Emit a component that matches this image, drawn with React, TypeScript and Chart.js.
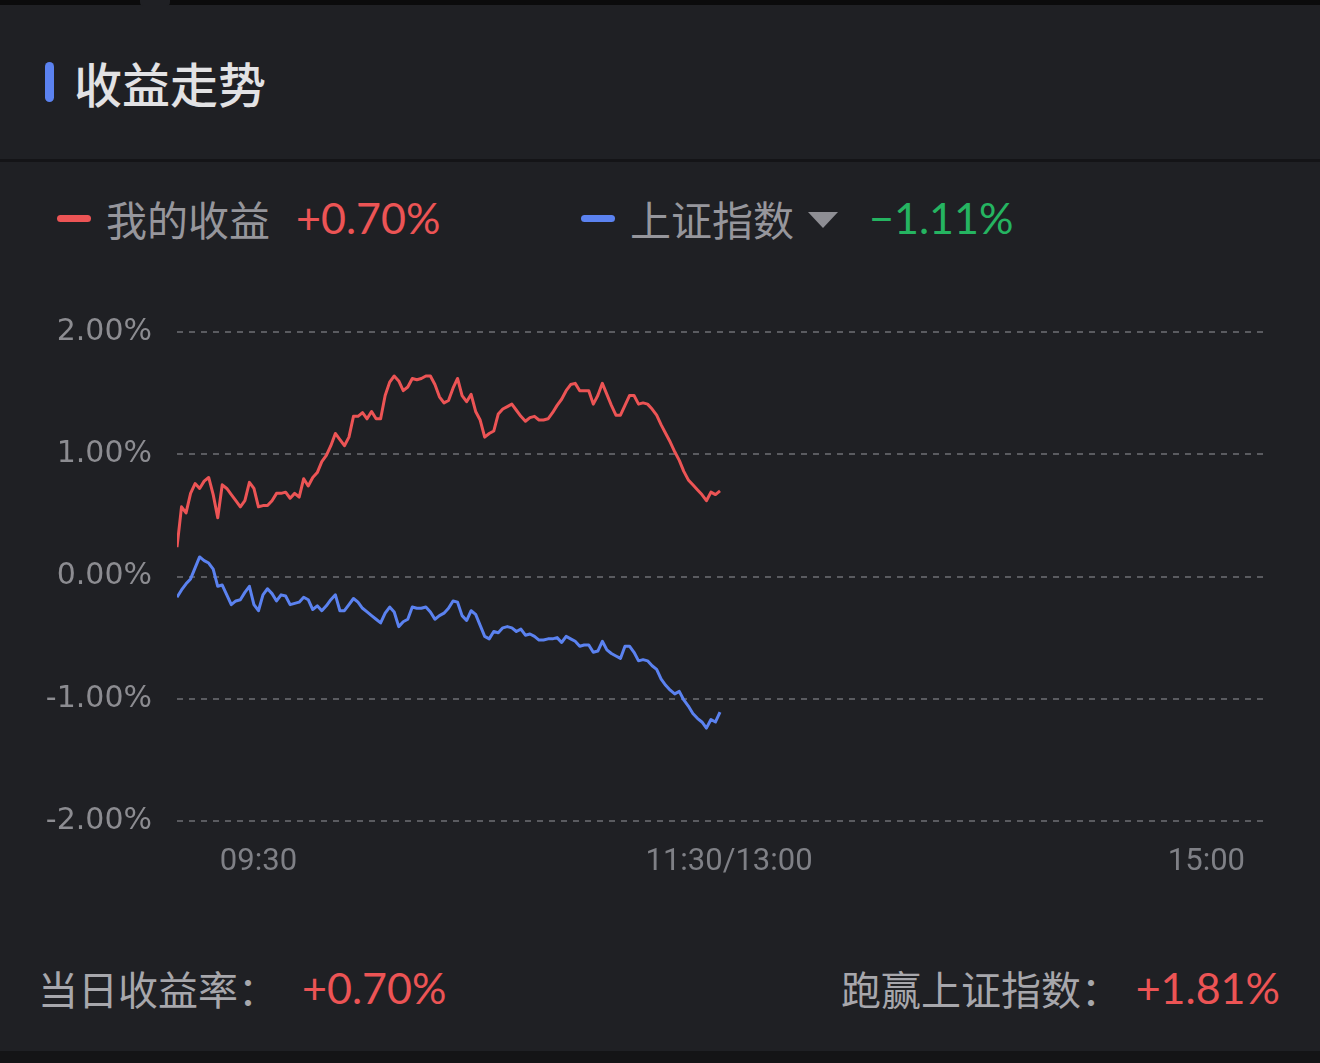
import React, { useEffect, useRef } from "react";
import { Chart, registerables } from "chart.js";

Chart.register(...registerables);

// ---- data (percent return per minute, 09:30 → 11:30) ----
const myReturn: number[] = [
  0.24, 0.57, 0.52, 0.68, 0.76, 0.72, 0.78, 0.81, 0.67, 0.48,
  0.75, 0.72, 0.67, 0.62, 0.57, 0.62, 0.77, 0.72, 0.57, 0.58,
  0.58, 0.62, 0.68, 0.68, 0.69, 0.64, 0.68, 0.65, 0.80, 0.74,
  0.81, 0.85, 0.94, 0.99, 1.07, 1.17, 1.12, 1.07, 1.14, 1.31,
  1.31, 1.34, 1.29, 1.35, 1.29, 1.29, 1.48, 1.59, 1.64, 1.60,
  1.52, 1.55, 1.62, 1.61, 1.62, 1.64, 1.64, 1.57, 1.47, 1.42,
  1.44, 1.54, 1.62, 1.48, 1.43, 1.49, 1.35, 1.28, 1.14, 1.17,
  1.19, 1.33, 1.37, 1.39, 1.41, 1.36, 1.31, 1.27, 1.30, 1.31,
  1.28, 1.28, 1.29, 1.34, 1.40, 1.45, 1.52, 1.57, 1.58, 1.52,
  1.52, 1.52, 1.41, 1.48, 1.58, 1.49, 1.40, 1.32, 1.32, 1.40,
  1.48, 1.48, 1.41, 1.42, 1.41, 1.37, 1.32, 1.24, 1.17, 1.10,
  1.02, 0.95, 0.86, 0.79, 0.75, 0.71, 0.67, 0.62, 0.69, 0.67,
  0.70,
];

const shIndex: number[] = [
  -0.17, -0.11, -0.06, -0.02, 0.07, 0.16, 0.13, 0.11, 0.06, -0.08,
  -0.07, -0.15, -0.23, -0.20, -0.19, -0.13, -0.08, -0.23, -0.28, -0.15,
  -0.10, -0.14, -0.20, -0.15, -0.16, -0.23, -0.22, -0.21, -0.17, -0.19,
  -0.27, -0.24, -0.28, -0.24, -0.19, -0.15, -0.28, -0.28, -0.23, -0.18,
  -0.21, -0.26, -0.29, -0.32, -0.35, -0.38, -0.30, -0.25, -0.29, -0.41,
  -0.37, -0.35, -0.25, -0.26, -0.26, -0.25, -0.29, -0.35, -0.32, -0.30,
  -0.26, -0.20, -0.21, -0.32, -0.36, -0.28, -0.31, -0.40, -0.49, -0.51,
  -0.45, -0.46, -0.42, -0.41, -0.42, -0.45, -0.43, -0.48, -0.47, -0.49,
  -0.52, -0.52, -0.51, -0.51, -0.50, -0.54, -0.49, -0.51, -0.53, -0.57,
  -0.56, -0.56, -0.62, -0.61, -0.53, -0.60, -0.63, -0.65, -0.67, -0.57,
  -0.57, -0.62, -0.69, -0.68, -0.69, -0.73, -0.76, -0.84, -0.89, -0.93,
  -0.96, -0.94, -1.01, -1.06, -1.12, -1.16, -1.19, -1.24, -1.17, -1.19,
  -1.11,
];

const sessionMinutes = 240;
const xTickAt: number[] = [18, 122, 227.5];
const xTickLabels: string[] = ["09:30", "11:30/13:00", "15:00"];
const yTicks: number[] = [-2, -1, 0, 1, 2];

const RED = "#ec5455";
const BLUE = "#5b82f0";
const GREEN = "#25b461";
const BG = "#1f2024";

const CJK = '"Noto Sans CJK SC", "Noto Sans", sans-serif';
const NUM: React.CSSProperties = { fontFamily: 'Lato, "Noto Sans CJK SC", sans-serif' };

function ReturnChart() {
  const ref = useRef<HTMLCanvasElement | null>(null);
  useEffect(() => {
    if (!ref.current) return;
    const chart = new Chart(ref.current, {
      type: "line",
      data: {
        datasets: [
          {
            label: "我的收益",
            data: myReturn.map((v, i) => ({ x: i, y: v })),
            borderColor: RED,
            borderWidth: 3,
            pointRadius: 0,
            tension: 0,
            borderJoinStyle: "round",
          },
          {
            label: "上证指数",
            data: shIndex.map((v, i) => ({ x: i, y: v })),
            borderColor: BLUE,
            borderWidth: 3,
            pointRadius: 0,
            tension: 0,
            borderJoinStyle: "round",
          },
        ],
      },
      options: {
        animation: false,
        responsive: false,
        devicePixelRatio: 1,
        layout: { padding: { top: 39, right: 57, bottom: 0, left: 0 } },
        plugins: { legend: { display: false }, tooltip: { enabled: false } },
        scales: {
          x: {
            type: "linear",
            min: 0,
            max: sessionMinutes,
            afterBuildTicks: (s: any) => {
              s.ticks = xTickAt.map((v) => ({ value: v }));
            },
            afterFit: (s: any) => {
              s.height = 88;
            },
            grid: { display: false, drawTicks: false },
            border: { display: false },
            ticks: {
              autoSkip: false,
              maxRotation: 0,
              padding: 23,
              color: "#7f8086",
              font: { family: "Roboto", size: 31 },
              callback: (_v: any, i: number) => xTickLabels[i],
            },
          },
          y: {
            min: -2,
            max: 2,
            afterBuildTicks: (s: any) => {
              s.ticks = yTicks.map((v) => ({ value: v }));
            },
            afterFit: (s: any) => {
              s.width = 177;
            },
            grid: { color: "#5a5b60", lineWidth: 2, drawTicks: false },
            border: { display: false, dash: [6, 6] },
            ticks: {
              padding: 25,
              color: "#8c8c91",
              font: { family: '"DejaVu Sans"', size: 30 },
              callback: (v: any) => Number(v).toFixed(2) + "%",
            },
          },
        },
      },
    });
    return () => chart.destroy();
  }, []);
  return (
    <canvas
      ref={ref}
      width={1320}
      height={620}
      style={{ position: "absolute", left: 0, top: 289, width: 1320, height: 620 }}
    />
  );
}

export default function App() {
  useEffect(() => {
    document.body.style.margin = "0";
    document.body.style.background = BG;
  }, []);
  const abs = (s: React.CSSProperties): React.CSSProperties => ({ position: "absolute", ...s });
  return (
    <div style={{ position: "relative", width: 1320, height: 1063, background: BG, overflow: "hidden", fontFamily: CJK }}>
      {/* top strip */}
      <div style={abs({ left: 0, top: 0, width: 1320, height: 5, background: "#0b0b0c" })} />
      <div style={abs({ left: 140, top: 0, width: 30, height: 6, background: BG, borderRadius: "0 0 4px 4px" })} />

      {/* title */}
      <div style={abs({ left: 45, top: 62, width: 9, height: 40, borderRadius: 5, background: BLUE })} />
      <div style={abs({ left: 74, top: 50, fontSize: 48, fontWeight: 500, color: "#e2e2e4", lineHeight: "64px" })}>
        收益走势
      </div>
      <div style={abs({ left: 0, top: 159, width: 1320, height: 3, background: "#141417" })} />

      {/* legend */}
      <div style={abs({ left: 57, top: 215, width: 34, height: 7, borderRadius: 4, background: RED })} />
      <div style={abs({ left: 106, top: 192, fontSize: 41, color: "#96969c", lineHeight: "52px" })}>我的收益</div>
      <div style={abs({ left: 296, top: 192, fontSize: 43, color: RED, lineHeight: "52px", ...NUM })}>+0.70%</div>

      <div style={abs({ left: 581, top: 215, width: 34, height: 7, borderRadius: 4, background: BLUE })} />
      <div style={abs({ left: 630, top: 192, fontSize: 41, color: "#96969c", lineHeight: "52px" })}>上证指数</div>
      <div
        style={abs({
          left: 808,
          top: 212,
          width: 0,
          height: 0,
          borderLeft: "15px solid transparent",
          borderRight: "15px solid transparent",
          borderTop: "16px solid #8e8e94",
        })}
      />
      <div style={abs({ left: 869, top: 192, fontSize: 43, color: GREEN, lineHeight: "52px", ...NUM })}>−1.11%</div>

      <ReturnChart />

      {/* footer */}
      <div style={abs({ left: 38, top: 962, fontSize: 40, color: "#a7a7ac", lineHeight: "52px" })}>当日收益率：</div>
      <div style={abs({ left: 302, top: 962, fontSize: 43, color: RED, lineHeight: "52px", ...NUM })}>+0.70%</div>
      <div style={abs({ left: 841, top: 962, fontSize: 40, color: "#a7a7ac", lineHeight: "52px" })}>跑赢上证指数：</div>
      <div style={abs({ right: 40, top: 962, fontSize: 43, color: RED, lineHeight: "52px", ...NUM })}>+1.81%</div>

      <div style={abs({ left: 0, top: 1051, width: 1320, height: 12, background: "#141416" })} />
    </div>
  );
}
